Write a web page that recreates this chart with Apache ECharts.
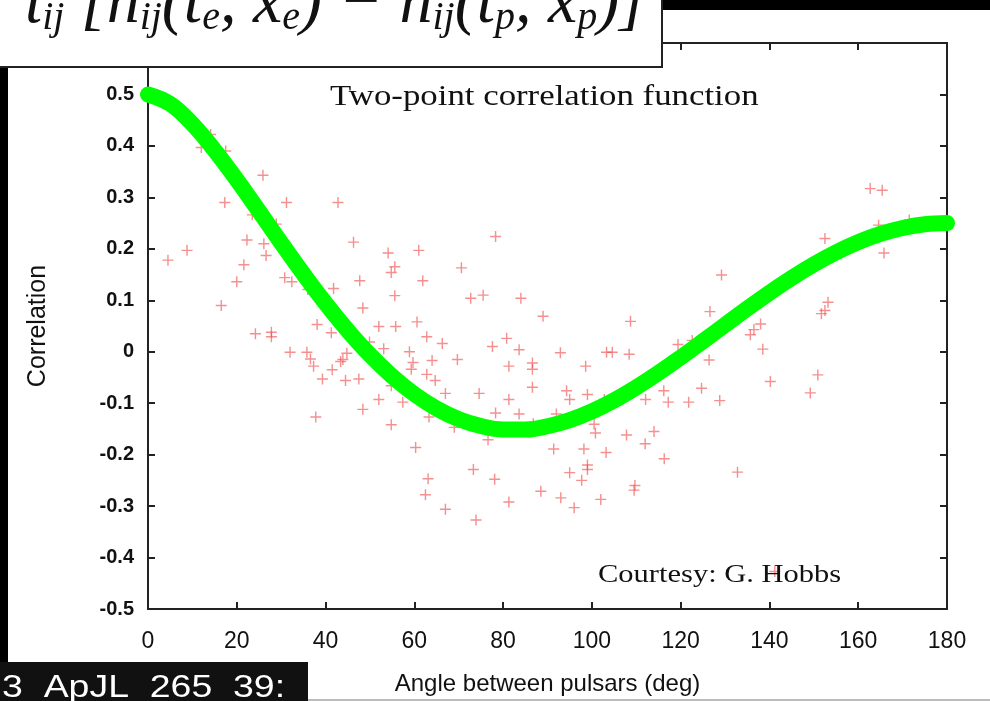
<!DOCTYPE html>
<html><head><meta charset="utf-8">
<script src="https://cdn.jsdelivr.net/npm/echarts/dist/echarts.min.js"></script>
<style>html,body{margin:0;padding:0;background:#fff;overflow:hidden}#c{width:990px;height:701px}</style>
</head><body><div id="c"></div>
<script>
// Smooth curve (angle in deg, correlation)
const curveAngle = [0,5,10,15,20,25,30,35,40,45,50,55,60,65,70,75,80,85,90,95,100,105,110,115,120,125,130,135,140,145,150,155,160,165,170,175,180];
const curveCorr = [0.5,0.4816,0.4425,0.3917,0.3341,0.2732,0.2116,0.1514,0.0942,0.0414,-0.0062,-0.0476,-0.0824,-0.1102,-0.1309,-0.1445,-0.1511,-0.1511,-0.1449,-0.1329,-0.1159,-0.0945,-0.0693,-0.0413,-0.0111,0.0203,0.0522,0.0839,0.1145,0.1433,0.1697,0.1931,0.2130,0.2289,0.2405,0.2476,0.25];

// Measured pulsar-pair points
const pointAngle = [14.1,12.0,17.5,25.9,17.3,31.2,42.8,23.5,28.9,22.3,26.1,46.3,8.8,4.5,26.6,54.1,61.0,21.6,55.6,54.8,20.0,30.8,32.4,47.7,61.9,41.8,36.0,55.6,16.5,48.4,38.1,52.0,55.8,60.6,24.2,27.8,27.8,41.3,62.8,66.3,49.9,53.1,32.0,35.8,44.8,58.9,
36.6,37.3,43.4,43.9,41.5,39.3,44.5,47.5,59.7,59.3,64.0,62.8,64.7,67.0,54.8,52.0,57.4,48.4,37.8,63.3,54.8,60.3,63.1,62.5,67.0,
78.3,70.6,72.7,75.5,84.0,89.0,108.7,129.2,126.6,80.8,77.6,83.6,92.9,103.3,104.6,108.4,119.4,122.6,
69.7,81.3,86.6,86.6,98.6,126.4,74.6,81.3,86.6,94.3,95.0,99.0,102.8,112.1,117.2,116.2,121.8,124.7,128.8,78.3,83.6,92.0,69.0,76.6,100.5,100.8,107.8,114.0,112.0,91.4,98.2,103.2,116.3,73.3,99.0,99.0,95.0,97.7,78.1,132.8,109.7,109.5,88.5,81.3,93.0,102.0,96.0,73.9,86.8,
162.7,165.4,164.6,171.5,165.8,152.5,153.2,152.5,151.7,138.0,136.5,135.7,138.5,140.2,150.9,149.2,141.2];
const pointCorr = [0.422,0.397,0.390,0.343,0.290,0.290,0.290,0.266,0.248,0.217,0.210,0.213,0.197,0.178,0.187,0.192,0.197,0.169,0.165,0.154,0.136,0.144,0.136,0.138,0.138,0.123,0.121,0.109,0.090,0.085,0.053,0.049,0.049,0.058,0.035,0.038,0.029,0.037,0.029,0.016,0.019,0.006,-0.001,-0.001,-0.003,0.000,
-0.014,-0.028,-0.019,-0.015,-0.035,-0.053,-0.056,-0.053,-0.021,-0.034,-0.017,-0.044,-0.056,-0.081,-0.066,-0.093,-0.098,-0.112,-0.127,-0.127,-0.142,-0.186,-0.247,-0.278,-0.306,
0.224,0.163,0.104,0.110,0.104,0.069,0.059,0.149,0.078,0.026,0.010,0.004,-0.002,-0.001,-0.001,-0.005,0.014,0.022,
-0.015,-0.028,-0.022,-0.034,-0.028,-0.016,-0.081,-0.093,-0.069,-0.076,-0.093,-0.083,-0.093,-0.093,-0.098,-0.076,-0.098,-0.071,-0.095,-0.119,-0.121,-0.121,-0.147,-0.171,-0.141,-0.158,-0.162,-0.155,-0.179,-0.189,-0.189,-0.196,-0.208,-0.229,-0.220,-0.229,-0.235,-0.250,-0.248,-0.234,-0.260,-0.269,-0.271,-0.292,-0.284,-0.287,-0.303,-0.327,-0.140,
0.317,0.314,0.246,0.256,0.192,0.220,0.096,0.080,0.074,0.054,0.043,0.033,0.005,-0.058,-0.045,-0.080,-0.427];

const chartTitle = 'Two-point correlation function';
const xName = 'Angle between pulsars (deg)';
const yName = 'Correlation';
const credit = 'Courtesy: G. Hobbs';
const refText = '3  ApJL  265  39:';

const curveData = curveAngle.map((a, i) => [a, curveCorr[i]]);
const pointData = pointAngle.map((a, i) => [a, pointCorr[i]]);

const axisCol = '#222';
const chart = echarts.init(document.getElementById('c'), null, {renderer: 'canvas'});
const plusPath = 'path://M4.35,0H5.65V4.35H10V5.65H5.65V10H4.35V5.65H0V4.35H4.35Z';

chart.setOption({
  animation: false,
  backgroundColor: '#fff',
  grid: {left: 148, right: 43, top: 43, bottom: 86, containLabel: false},
  xAxis: [{
    type: 'value', min: 0, max: 180, interval: 20, position: 'bottom',
    axisLine: {show: true, onZero: false, lineStyle: {color: axisCol, width: 2}},
    axisTick: {show: true, inside: true, length: 7, lineStyle: {color: axisCol, width: 2}},
    axisLabel: {fontSize: 23, color: '#111', fontFamily: 'Liberation Sans', margin: 21},
    splitLine: {show: false},
    name: xName, nameLocation: 'middle', nameGap: 63,
    nameTextStyle: {fontSize: 24, color: '#111', fontFamily: 'Liberation Sans'}
  }, {
    type: 'value', min: 0, max: 180, interval: 20, position: 'top',
    axisLine: {show: true, onZero: false, lineStyle: {color: axisCol, width: 2}},
    axisTick: {show: true, inside: true, length: 7, lineStyle: {color: axisCol, width: 2}},
    axisLabel: {show: false}, splitLine: {show: false}
  }],
  yAxis: [{
    type: 'value', min: -0.5, max: 0.6, interval: 0.1, position: 'left',
    axisLine: {show: true, onZero: false, lineStyle: {color: axisCol, width: 2}},
    axisTick: {show: true, inside: true, length: 7, lineStyle: {color: axisCol, width: 2}},
    axisLabel: {fontSize: 20, color: '#111', fontFamily: 'Liberation Sans', fontWeight: 'bold', margin: 14,
      formatter: v => Math.abs(v) < 1e-9 ? '0' : v.toFixed(1)},
    splitLine: {show: false},
    name: yName, nameLocation: 'middle', nameGap: 97, nameRotate: 90,
    nameTextStyle: {fontSize: 25, color: '#111', fontFamily: 'Liberation Sans'}
  }, {
    type: 'value', min: -0.5, max: 0.6, interval: 0.1, position: 'right',
    axisLine: {show: true, onZero: false, lineStyle: {color: axisCol, width: 2}},
    axisTick: {show: true, inside: true, length: 7, lineStyle: {color: axisCol, width: 2}},
    axisLabel: {show: false}, splitLine: {show: false}
  }],
  series: [{
    type: 'scatter', name: 'pairs', data: pointData, xAxisIndex: 0, yAxisIndex: 0,
    symbol: plusPath, symbolSize: 11,
    itemStyle: {color: 'rgba(240,70,70,0.75)'}, z: 2
  }, {
    type: 'line', name: 'expected', data: curveData, xAxisIndex: 0, yAxisIndex: 0,
    smooth: 0.4, showSymbol: false, clip: false,
    lineStyle: {color: '#00ff00', width: 16, cap: 'round'}, z: 3
  }],
  graphic: [
    {type: 'text', z: 50, x: 330, y: 97, scaleX: 1.16,
      style: {text: chartTitle, font: '30px "Liberation Serif"', fill: '#111', textVerticalAlign: 'middle'}},
    {type: 'text', z: 50, x: 598, y: 575, scaleX: 1.22,
      style: {text: credit, font: '25px "Liberation Serif"', fill: '#111', textVerticalAlign: 'middle'}},
    {type: 'rect', z: 100, shape: {x: 662, y: 0, width: 330, height: 10}, style: {fill: '#000'}},
    {type: 'rect', z: 100, shape: {x: 0, y: 66, width: 8, height: 600}, style: {fill: '#000'}},
    {type: 'rect', z: 100, shape: {x: -5, y: -5, width: 667, height: 72}, style: {fill: '#fff', stroke: '#222', lineWidth: 2}},
    {type: 'text', z: 101, x: 645, y: 38, scaleX: 1.0,
      style: {
        text: '{m|ι}{s|ij}{m| [h}{s|ij}{m|(t}{s|e}{m|, x}{s|e}{m|) − h}{s|ij}{m|(t}{s|p}{m|, x}{s|p}{m|)]}',
        textAlign: 'right', textVerticalAlign: 'bottom',
        rich: {
          m: {font: 'italic 66px "Liberation Serif"', fill: '#111', lineHeight: 70, verticalAlign: 'bottom'},
          s: {font: 'italic 40px "Liberation Serif"', fill: '#111', lineHeight: 46, verticalAlign: 'bottom'}
        }
      }},
    {type: 'rect', z: 100, shape: {x: 0, y: 662, width: 308, height: 40}, style: {fill: '#111'}},
    {type: 'text', z: 101, x: 2, y: 688, scaleX: 1.17,
      style: {text: refText, font: '32px "Liberation Sans"', fill: '#fff', textVerticalAlign: 'middle'}},
    {type: 'rect', z: 100, shape: {x: 308, y: 699, width: 682, height: 2}, style: {fill: '#bbb'}}
  ]
});
</script>
</body></html>
